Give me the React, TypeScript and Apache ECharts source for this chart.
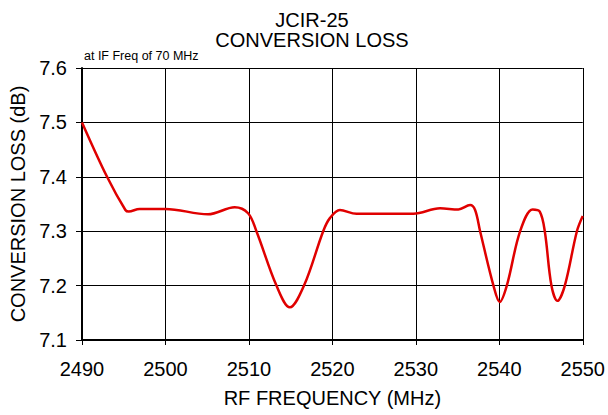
import React, { useEffect, useRef } from "react";
import * as echarts from "echarts";

const titleLines = ["JCIR-25", "CONVERSION LOSS"];
const noteText = "at IF Freq of 70 MHz";
const xAxisName = "RF FREQUENCY (MHz)";
const yAxisName = "CONVERSION LOSS (dB)";

const freqMHz = [
  2490, 2493, 2495.2, 2495.6, 2496.9, 2500, 2505.1, 2508.3, 2509.9, 2510.9,
  2513.3, 2514.9, 2516.6, 2518.9, 2519.7, 2520.9, 2522.9, 2529.7, 2532.9,
  2535.1, 2536.5, 2537.1, 2537.7, 2539.3, 2540.05, 2540.9, 2542.5, 2544.0,
  2544.85, 2545.45, 2546.25, 2546.97, 2547.85, 2549.3, 2550,
];
const lossDb = [
  7.5, 7.4, 7.339, 7.336, 7.341, 7.341, 7.331, 7.344, 7.333, 7.3,
  7.2, 7.16, 7.2, 7.3, 7.324, 7.339, 7.332, 7.332, 7.342,
  7.34, 7.348, 7.339, 7.3, 7.2, 7.17, 7.2, 7.3, 7.34,
  7.336, 7.3, 7.2, 7.172, 7.2, 7.3, 7.328,
];

export default function App() {
  const ref = useRef<HTMLDivElement>(null);
  useEffect(() => {
    document.body.style.margin = "0";
    if (!ref.current) return;
    const chart = echarts.init(ref.current, null, { renderer: "svg" });
    const font = "Liberation Sans, Arial, sans-serif";
    chart.setOption({
      animation: false,
      backgroundColor: "#ffffff",
      textStyle: { fontFamily: font },
      graphic: [
        {
          type: "text",
          x: 312,
          y: 20,
          style: {
            text: titleLines[0],
            font: `20px ${font}`,
            fill: "#000",
            textAlign: "center",
            textVerticalAlign: "middle",
          },
        },
        {
          type: "text",
          x: 312,
          y: 40,
          style: {
            text: titleLines[1],
            font: `20px ${font}`,
            fill: "#000",
            textAlign: "center",
            textVerticalAlign: "middle",
          },
        },
        {
          type: "text",
          left: 84,
          top: 49,
          style: { text: noteText, font: `12.5px ${font}`, fill: "#000" },
        },
      ],
      grid: { left: 82, right: 25, top: 68, bottom: 75 },
      xAxis: {
        type: "value",
        min: 2490,
        max: 2550,
        interval: 10,
        name: xAxisName,
        nameLocation: "middle",
        nameGap: 48,
        nameTextStyle: { fontSize: 20, color: "#000", fontFamily: font },
        axisLine: { show: true, lineStyle: { color: "#000", width: 2 } },
        axisTick: { show: true, length: 5, lineStyle: { color: "#000", width: 1 } },
        axisLabel: {
          fontSize: 20,
          color: "#000",
          margin: 19,
          fontFamily: font,
          formatter: (v: number) => String(v),
        },
        splitLine: { show: true, lineStyle: { color: "#000", width: 1 } },
      },
      yAxis: {
        type: "value",
        min: 7.1,
        max: 7.6,
        interval: 0.1,
        name: yAxisName,
        nameLocation: "middle",
        nameGap: 52,
        nameTextStyle: { fontSize: 20, color: "#000", fontFamily: font },
        axisLine: { show: true, lineStyle: { color: "#000", width: 2 } },
        axisTick: { show: true, length: 6, lineStyle: { color: "#000", width: 1 } },
        axisLabel: {
          fontSize: 20,
          color: "#000",
          margin: 15,
          fontFamily: font,
          formatter: (v: number) => v.toFixed(1),
        },
        splitLine: { show: true, lineStyle: { color: "#000", width: 1 } },
      },
      series: [
        {
          type: "line",
          data: freqMHz.map((f, i) => [f, lossDb[i]]),
          smooth: 0.35,
          showSymbol: false,
          lineStyle: { color: "#e00000", width: 2.5 },
          clip: true,
        },
      ],
    });
    return () => chart.dispose();
  }, []);
  return <div ref={ref} style={{ width: 608, height: 415 }} />;
}
